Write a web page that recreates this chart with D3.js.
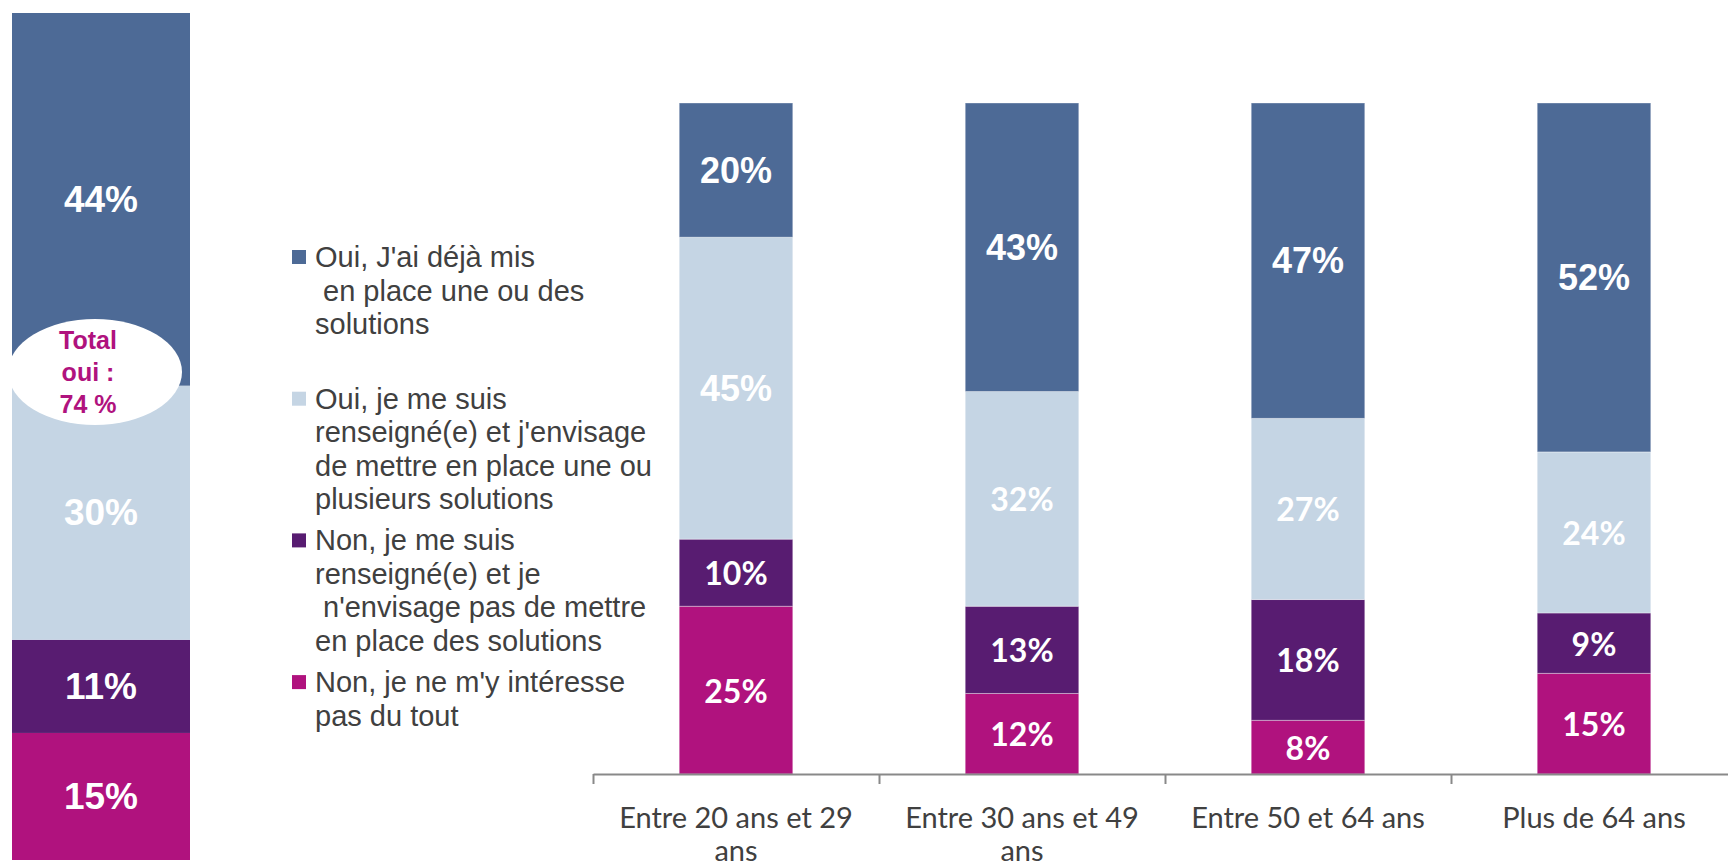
<!DOCTYPE html>
<html>
<head>
<meta charset="utf-8">
<script src="https://cdn.jsdelivr.net/npm/d3@7"></script>
<style>
  body { margin: 0; background: #fff; }
  svg { display: block; }
</style>
</head>
<body>
<div id="chart"></div>
<script>
// categories and their axis labels (wrapped as in the original)
const ageGroups = ['Entre 20 ans et 29 ans', 'Entre 30 ans et 49 ans', 'Entre 50 et 64 ans', 'Plus de 64 ans'];
const ageLabelLines = [['Entre 20 ans et 29', 'ans'], ['Entre 30 ans et 49', 'ans'], ['Entre 50 et 64 ans'], ['Plus de 64 ans']];

// series, % per age group
const ouiDeja = [20, 43, 47, 52];
const ouiEnvisage = [45, 32, 27, 24];
const nonRenseigne = [10, 13, 18, 9];
const nonInteresse = [25, 12, 8, 15];

// whole sample (left column), same series order
const ensembleLabel = 'Ensemble';
const ensembleValues = [44, 30, 11, 15]; // ouiDeja, ouiEnvisage, nonRenseigne, nonInteresse

const legendLines = [
  ["Oui, J'ai déjà mis", ' en place une ou des', 'solutions'],
  ['Oui, je me suis', "renseigné(e) et j'envisage", 'de mettre en place une ou', 'plusieurs solutions'],
  ['Non, je me suis', 'renseigné(e) et je', " n'envisage pas de mettre", 'en place des solutions'],
  ["Non, je ne m'y intéresse", 'pas du tout']
];

const keysTop = ['ouiDeja', 'ouiEnvisage', 'nonRenseigne', 'nonInteresse'];
const keysStack = keysTop.slice().reverse();
const colors = { ouiDeja: '#4d6a96', ouiEnvisage: '#c5d5e4', nonRenseigne: '#581c71', nonInteresse: '#b0127e' };

const ARIAL = '"Liberation Sans", Arial, sans-serif';
const CALIBRI = 'Lato, "Open Sans", sans-serif';

const width = 1728, height = 866;
const svg = d3.select('#chart').append('svg').attr('width', width).attr('height', height);

// ---- main stacked chart
const rows = ageGroups.map((g, i) => ({
  group: g, ouiDeja: ouiDeja[i], ouiEnvisage: ouiEnvisage[i], nonRenseigne: nonRenseigne[i], nonInteresse: nonInteresse[i]
}));
const stacked = d3.stack().keys(keysStack)(rows);

const x = d3.scaleBand().domain(ageGroups).range([593, 1737]).paddingInner(0.603).paddingOuter(0.3015);
const y = d3.scaleLinear().domain([0, 100]).range([774, 103]);

const layers = svg.append('g').selectAll('g').data(stacked).join('g')
  .attr('fill', d => colors[d.key]);

layers.selectAll('rect').data(d => d).join('rect')
  .attr('x', d => x(d.data.group))
  .attr('y', d => y(d[1]))
  .attr('width', x.bandwidth())
  .attr('height', d => y(d[0]) - y(d[1]))
  .attr('stroke', 'rgba(255,255,255,0.35)')
  .attr('stroke-width', 1);

function labelFont(key, i) {
  return (key === 'ouiDeja' || (key === 'ouiEnvisage' && i === 0)) ? ARIAL : CALIBRI;
}

layers.each(function(layer) {
  d3.select(this).selectAll('text').data(layer).join('text')
    .attr('x', d => x(d.data.group) + x.bandwidth() / 2)
    .attr('y', d => (y(d[0]) + y(d[1])) / 2)
    .attr('text-anchor', 'middle')
    .attr('dominant-baseline', 'central')
    .attr('fill', '#fff')
    .attr('font-weight', 'bold')
    .attr('font-family', (d, i) => labelFont(layer.key, i))
    .attr('font-size', (d, i) => labelFont(layer.key, i) === ARIAL ? 36 : 32)
    .text(d => (d[1] - d[0]) + '%');
});

// axis: line with ticks between categories
const xb = d3.scaleLinear().domain([0, ageGroups.length]).range(x.range());
const axis = svg.append('g').attr('transform', `translate(0,${y(0)})`)
  .call(d3.axisBottom(xb).tickValues(d3.range(0, ageGroups.length + 1)).tickSize(10).tickSizeOuter(0).tickFormat(''));
axis.select('.domain').attr('stroke', '#898989').attr('stroke-width', 2);
axis.selectAll('.tick line').attr('stroke', '#898989').attr('stroke-width', 2);

svg.append('g').selectAll('text').data(ageGroups).join('text')
  .attr('x', d => x(d) + x.bandwidth() / 2)
  .attr('y', 816)
  .attr('text-anchor', 'middle')
  .attr('font-family', CALIBRI)
  .attr('font-size', 29)
  .attr('fill', '#404040')
  .each(function(d, i) {
    d3.select(this).selectAll('tspan').data(ageLabelLines[i]).join('tspan')
      .attr('x', x(d) + x.bandwidth() / 2)
      .attr('y', (t, j) => 816 + j * 33)
      .attr('dominant-baseline', 'central')
      .text(t => t);
  });

// ---- left column (whole sample)
const ensRow = { group: ensembleLabel };
keysTop.forEach((k, i) => ensRow[k] = ensembleValues[i]);
const ensStack = d3.stack().keys(keysStack)([ensRow]);
const xt = d3.scaleBand().domain([ensembleLabel]).range([12, 190]);
const yt = d3.scaleLinear().domain([0, 100]).range([860, 13]);

const left = svg.append('g');
left.selectAll('rect').data(ensStack).join('rect')
  .attr('x', xt(ensembleLabel))
  .attr('y', d => yt(d[0][1]))
  .attr('width', xt.bandwidth())
  .attr('height', d => yt(d[0][0]) - yt(d[0][1]))
  .attr('fill', d => colors[d.key]);

left.selectAll('text').data(ensStack).join('text')
  .attr('x', xt(ensembleLabel) + xt.bandwidth() / 2)
  .attr('y', d => (yt(d[0][0]) + yt(d[0][1])) / 2)
  .attr('text-anchor', 'middle')
  .attr('dominant-baseline', 'central')
  .attr('fill', '#fff')
  .attr('font-family', ARIAL)
  .attr('font-weight', 'bold')
  .attr('font-size', 37)
  .text(d => (d[0][1] - d[0][0]) + '%');

// "Total oui" bubble
const totalOui = ensembleValues[0] + ensembleValues[1];
const bubble = svg.append('g');
bubble.append('ellipse').attr('cx', 95).attr('cy', 372).attr('rx', 87).attr('ry', 53).attr('fill', '#fff');
bubble.append('text')
  .attr('text-anchor', 'middle')
  .attr('font-family', ARIAL)
  .attr('font-weight', 'bold')
  .attr('font-size', 25)
  .attr('fill', '#b0127e')
  .selectAll('tspan').data(['Total', 'oui :', `${totalOui} %`]).join('tspan')
  .attr('x', 88)
  .attr('y', (d, i) => 340 + i * 32)
  .attr('dominant-baseline', 'central')
  .text(d => d);

// ---- legend
const legend = svg.append('g').selectAll('g').data(keysTop).join('g')
  .attr('transform', (d, i) => `translate(292,${257 + i * 141.7})`);

legend.append('rect')
  .attr('x', 0).attr('y', -7).attr('width', 14).attr('height', 14)
  .attr('fill', d => colors[d]);

legend.append('text')
  .attr('font-family', ARIAL)
  .attr('font-size', 29)
  .attr('fill', '#404040')
  .attr('xml:space', 'preserve')
  .style('white-space', 'pre')
  .each(function(d, i) {
    d3.select(this).selectAll('tspan').data(legendLines[i]).join('tspan')
      .attr('x', 23)
      .attr('y', (t, j) => j * 33.5)
      .attr('dominant-baseline', 'central')
      .text(t => t);
  });
</script>
</body>
</html>
